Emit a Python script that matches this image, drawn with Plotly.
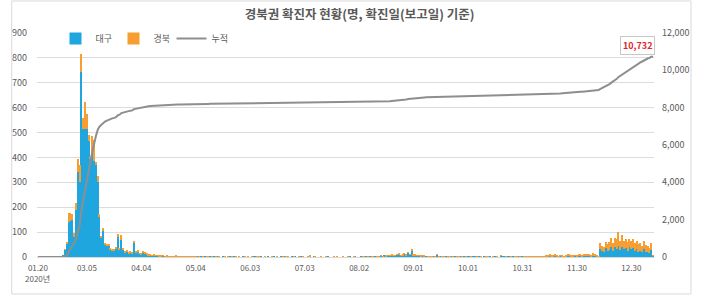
import numpy as np
import pandas as pd
import plotly.graph_objects as go

# ---- categories (report dates) ----
dates = ["01.20"] + [d.strftime("%m.%d") for d in pd.date_range("2020-02-08", "2021-01-11", freq="D")]

# ---- daily confirmed cases, 대구 ----
daegu = [
    0, 0, 0, 0, 0, 0, 0, 0, 0, 0,
    0, 0, 0, 0,
    10, 30, 55, 140, 145, 150, 80, 190, 340, 300,
    745, 515, 515, 515, 466, 395, 415, 385, 370, 300,
    160, 80, 105, 50, 47, 48, 30, 27, 25, 35,
    82, 32, 68, 31, 19, 24, 16, 20, 14, 58,
    19, 23, 13, 12,
    17, 15, 12, 8, 7, 5, 8, 4, 5, 3,
    2, 4, 2, 3, 2, 2, 1, 2, 3, 1,
    1, 2, 1, 1, 1, 1, 0, 1, 1, 0,
    1, 0, 2, 0, 1, 0, 0, 1, 0, 3,
    0, 1, 0, 0, 2, 1, 0, 0, 1, 0,
    1, 0, 0, 2, 0, 1, 0, 0, 1, 0,
    0, 1, 2, 0, 0, 1, 0, 0, 0, 1,
    0, 2, 1, 0, 0, 0, 1, 0, 1, 0,
    0, 0, 1, 0, 2, 0, 0, 1, 0, 0,
    0, 1, 0, 0, 1, 0, 0, 0, 1, 0,
    0, 0, 1, 0, 0, 1, 0, 2, 0, 0,
    1, 0, 0, 0, 1, 0, 0, 1, 0, 0,
    1, 1, 0, 1, 2, 1, 1, 0, 1, 2,
    2, 4, 1, 5, 3, 6, 5, 8, 6, 4,
    9, 12, 6, 8, 14, 6, 18, 9, 28, 7,
    6, 5, 4, 3, 5, 3, 3, 2, 2, 1,
    2, 3, 10, 2, 1, 3, 2, 1, 2, 0,
    1, 2, 1, 0, 3, 1, 0, 2, 1, 1,
    1, 0, 2, 1, 0, 1, 2, 0, 1, 2,
    0, 1, 0, 2, 3, 1, 0, 4, 2, 1,
    0, 1, 3, 2, 1, 0, 2, 1, 3, 2,
    2, 1, 3, 2, 1, 0, 2, 3, 1, 2,
    1, 2, 3, 2, 4, 3, 2, 5, 3, 2,
    4, 3, 2, 3, 5, 4, 3, 2, 4, 3,
    4, 5, 3, 6, 4, 5, 7, 3, 6, 5, 2, 1,
    31, 23, 21, 36, 26, 29, 41, 26, 39, 33,
    46, 29, 41, 31, 36, 26, 39, 31, 37, 23,
    31, 21, 26, 19, 31, 21, 19, 16, 29, 4,
]

# ---- daily confirmed cases, 경북 ----
gyeongbuk = [
    0, 0, 0, 0, 0, 0, 0, 0, 0, 0,
    0, 0, 0, 0,
    0, 2, 6, 35, 30, 24, 18, 25, 52, 70,
    70, 42, 109, 58, 24, 8, 70, 85, 10, 25,
    12, 6, 12, 6, 5, 5, 4, 4, 4, 4,
    10, 5, 20, 4, 3, 4, 3, 4, 3, 8,
    5, 5, 3, 4,
    6, 5, 5, 4, 4, 3, 3, 3, 3, 3,
    3, 3, 2, 2, 2, 2, 2, 2, 2, 2,
    1, 2, 2, 2, 1, 1, 1, 1, 1, 1,
    0, 1, 0, 2, 0, 1, 1, 0, 1, 0,
    2, 0, 1, 0, 0, 3, 0, 1, 0, 1,
    0, 2, 0, 1, 0, 0, 1, 0, 2, 0,
    1, 0, 0, 3, 1, 0, 0, 2, 0, 0,
    0, 1, 0, 0, 2, 0, 0, 1, 0, 1,
    1, 0, 0, 1, 0, 0, 2, 0, 1, 0,
    0, 1, 6, 0, 0, 1, 0, 0, 2, 0,
    0, 1, 0, 0, 0, 2, 0, 1, 0, 0,
    1, 0, 0, 1, 0, 0, 1, 0, 0, 0,
    0, 1, 2, 0, 1, 0, 2, 1, 0, 1,
    2, 1, 3, 0, 2, 1, 2, 3, 1, 2,
    3, 2, 1, 4, 2, 3, 2, 3, 4, 2,
    3, 2, 1, 2, 1, 2, 0, 1, 2, 1,
    0, 1, 2, 1, 0, 1, 2, 0, 1, 1,
    0, 1, 0, 2, 1, 0, 1, 0, 1, 0,
    0, 1, 0, 0, 1, 0, 1, 0, 0, 1,
    1, 0, 0, 1, 0, 2, 0, 1, 0, 0,
    1, 0, 0, 1, 0, 1, 2, 0, 1, 0,
    1, 1, 1, 1, 1, 2, 1, 1, 1, 2,
    2, 2, 3, 4, 5, 3, 6, 4, 2, 2,
    2, 3, 2, 3, 4, 5, 6, 4, 3, 2,
    6, 7, 5, 6, 6, 9, 7, 6, 10, 5, 4, 2,
    27, 23, 19, 24, 25, 31, 37, 29, 39, 38,
    56, 36, 46, 34, 35, 34, 32, 34, 34, 32,
    34, 30, 29, 27, 34, 27, 27, 21, 26, 3,
]

tick_labels = ["01.20", "03.05", "04.04", "05.04", "06.03", "07.03",
               "08.02", "09.01", "10.01", "10.31", "11.30", "12.30"]

idx = list(range(len(dates)))
tick_pos = [dates.index(t) for t in tick_labels]
cumulative = np.cumsum(np.array(daegu) + np.array(gyeongbuk))

BLUE = "#20A6DE"
ORANGE = "#F69E31"
GRAY = "#8E8E8E"
TXT = "#595959"
FONT = "Noto Sans CJK KR"

fig = go.Figure()
fig.add_trace(go.Bar(x=idx, y=daegu, name="대구", customdata=dates,
                     marker=dict(color=BLUE, line=dict(width=0))))
fig.add_trace(go.Bar(x=idx, y=gyeongbuk, name="경북", customdata=dates,
                     marker=dict(color=ORANGE, line=dict(width=0))))
fig.add_trace(go.Scatter(x=idx, y=cumulative, name="누적", mode="lines", customdata=dates,
                         line=dict(color=GRAY, width=2), yaxis="y2"))

fig.add_annotation(x=idx[-1], y=int(cumulative[-1]), xref="x", yref="y2",
                   text=f"<b>{int(cumulative[-1]):,}</b>", showarrow=False,
                   xshift=-16, yshift=11, font=dict(color="#E0242B", size=9, family=FONT),
                   bgcolor="white", bordercolor="#C8C8C8", borderwidth=1, borderpad=2)
fig.add_annotation(x=idx[0], y=-0.095, xref="x", yref="paper", text="2020년",
                   showarrow=False, font=dict(color=TXT, size=8, family=FONT),
                   xanchor="center", yanchor="middle")
fig.add_shape(type="rect", xref="paper", yref="paper", x0=-0.041, x1=1.06,
              y0=-0.165, y1=1.143, line=dict(color="#D9D9D9", width=1))

fig.update_layout(
    width=701, height=297,
    margin=dict(l=33, r=29, t=33, b=40),
    paper_bgcolor="white", plot_bgcolor="white",
    barmode="stack", bargap=0.3,
    font=dict(family=FONT, color=TXT, size=9),
    title=dict(text="경북권 확진자 현황(명, 확진일(보고일) 기준)", x=0.513, xanchor="center",
               y=0.95, yanchor="middle", font=dict(size=12.5, color=TXT, family=FONT, weight="bold")),
    legend=dict(orientation="h", x=0.03, y=0.975, xanchor="left", yanchor="middle",
                bgcolor="rgba(0,0,0,0)", font=dict(size=9, color=TXT), traceorder="normal",
                entrywidth=13, entrywidthmode="pixels"),
    xaxis=dict(range=[-0.5, len(dates) - 0.5], tickmode="array", tickvals=tick_pos,
               ticktext=tick_labels, showgrid=False, showline=True, linecolor="#D9D9D9",
               ticks="", tickangle=0, zeroline=False, tickfont=dict(size=8, color=TXT),
               ticklabelstandoff=3),
    yaxis=dict(range=[0, 900], dtick=100, gridcolor="#DCDCDC", zeroline=False,
               showline=False, tickfont=dict(size=9, color=TXT), ticklabelstandoff=9),
    yaxis2=dict(range=[0, 12000], dtick=2000, overlaying="y", side="right", showgrid=False,
                zeroline=False, tickformat=",d", tickfont=dict(size=9, color=TXT),
                ticklabelstandoff=7),
)

fig.write_html("out.html", config={"displayModeBar": False},
               post_script="document.body.style.margin='0';")
